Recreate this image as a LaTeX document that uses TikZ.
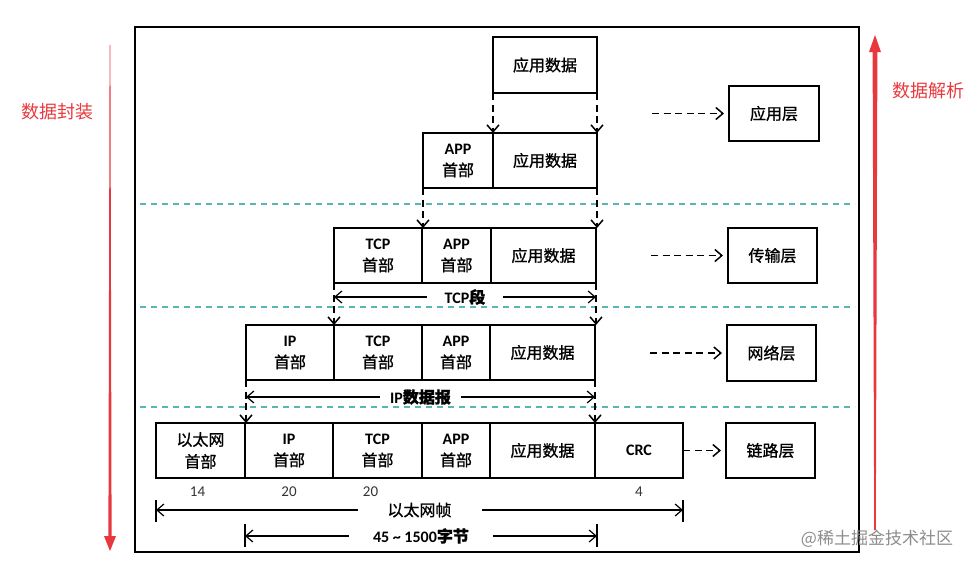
\documentclass[tikz,border=0pt]{standalone}
\usepackage{fontspec}
\setmainfont{Carlito}
\newfontfamily\cjk{Noto Sans CJK SC}
\newfontfamily\cjkb{Noto Sans CJK SC}[FakeBold=1.1]
\usetikzlibrary{arrows.meta}
\definecolor{redarr}{HTML}{E8383D}
\definecolor{cyanl}{HTML}{5AB5B5}
\newcommand\pbox[6]{\node[box, minimum width={(#4-#2)*1pt}, minimum height={(#5-#3)*1pt}] (#1) at ({(#2+#4)/2},{(#3+#5)/2}) {#6};}
\newcommand\hd[1]{\textbf{#1}\\{\cjkb 首部}}
\begin{document}
\begin{tikzpicture}[x=1pt,y=-1pt,
  box/.style={draw, line width=1.3pt, inner sep=0pt, outer sep=0pt, align=center,
    font=\fontsize{16}{22}\selectfont},
  layerbox/.style={box, font=\cjkb\fontsize{16}{18}\selectfont},
  darrow/.style={line width=1.5pt, dash pattern=on 7pt off 4.5pt, -{Straight Barb[length=7pt,width=12pt]}},
  dimarrow/.style={line width=1.2pt, {Straight Barb[length=7pt,width=12pt]}-{Straight Barb[length=7pt,width=12pt]}},
  dimlabel/.style={fill=white, inner ysep=1pt, font=\bfseries\fontsize{16}{18}\selectfont},
  sepline/.style={cyanl, line width=1.2pt, dash pattern=on 6pt off 5pt},
  redlabel/.style={text=redarr, font=\cjk\fontsize{18}{20}\selectfont},
  num/.style={font=\fontsize{15}{17}\selectfont, text=black!80}
]
\useasboundingbox (0,0) rectangle (974,566);
% frame
\draw[line width=1.5pt] (135,27) rectangle (859,552);
% separator lines
\draw[sepline] (140,204) -- (855,204);
\draw[sepline] (140,307) -- (855,307);
\draw[sepline] (140,407) -- (855,407);
% row 1
\pbox{ra}{493}{37}{597}{93}{{\cjkb 应用数据}}
% row 2
\pbox{rba}{423}{133}{493}{188}{\hd{APP}}
\pbox{rbb}{493}{133}{597}{188}{{\cjkb 应用数据}}
% row 3
\pbox{rca}{334}{228}{422}{283}{\hd{TCP}}
\pbox{rcb}{422}{228}{491}{283}{\hd{APP}}
\pbox{rcc}{491}{228}{596}{283}{{\cjkb 应用数据}}
% row 4
\pbox{rda}{246}{325}{334}{380}{\hd{IP}}
\pbox{rdb}{334}{325}{422}{380}{\hd{TCP}}
\pbox{rdc}{422}{325}{490}{380}{\hd{APP}}
\pbox{rdd}{490}{325}{595}{380}{{\cjkb 应用数据}}
% row 5
\pbox{rea}{156}{423}{245}{478}{{\cjkb 以太网}\\{\cjkb 首部}}
\pbox{reb}{245}{423}{333}{478}{\hd{IP}}
\pbox{rec}{333}{423}{422}{478}{\hd{TCP}}
\pbox{red}{422}{423}{490}{478}{\hd{APP}}
\pbox{ree}{490}{423}{595}{478}{{\cjkb 应用数据}}
\pbox{ref}{595}{423}{683}{478}{\textbf{CRC}}
% layer boxes
\node[layerbox, minimum width=90pt, minimum height=55pt] (la) at (774,113.5) {应用层};
\node[layerbox, minimum width=89pt, minimum height=55pt] (lb) at (772.5,255.5) {传输层};
\node[layerbox, minimum width=89pt, minimum height=56pt] (lc) at (771.5,353) {网络层};
\node[layerbox, minimum width=89pt, minimum height=55pt] (ld) at (770.5,450.5) {链路层};
% layer arrows
\coordinate (sa) at (652,113.5);
\coordinate (sb) at (651,255.5);
\coordinate (sc) at (650,353);
\draw[darrow] (sa) -- ([xshift=-5pt]la.west);
\draw[darrow] (sb) -- ([xshift=-5pt]lb.west);
\draw[darrow] (sc) -- ([xshift=-5pt]lc.west);
\draw[darrow] (ref.east) -- ([xshift=-5pt]ld.west);
% encapsulation arrows
\draw[darrow] (ra.south west) -- (rbb.north west);
\draw[darrow] (ra.south east) -- (rbb.north east);
\draw[darrow] (rba.south west) -- (rba.south west |- rcb.north);
\draw[darrow] (rbb.south east) -- (rbb.south east |- rcc.north);
\draw[darrow] (rca.south west) -- (rca.south west |- rdb.north);
\draw[darrow] (rcc.south east) -- (rcc.south east |- rdd.north);
\draw[darrow] (rda.south west) -- (rda.south west |- reb.north);
\draw[darrow] (rdd.south east) -- (rdd.south east |- ree.north);
% dimension lines
\draw[dimarrow] ([yshift=-14pt]rca.south west) -- node[dimlabel, inner xsep=18pt] {TCP{\cjkb 段}} ([yshift=-14pt]rcc.south east);
\draw[dimarrow] ([yshift=-17pt]rda.south west) -- node[dimlabel, inner xsep=10pt] {IP{\cjkb 数据报}} ([yshift=-17pt]rdd.south east);
% numbers
\node[num] (n1) at ([xshift=-3pt,yshift=-14pt]rea.south) {14};
\node[num] (n2) at ([yshift=-14pt]reb.south) {20};
\node[num] (n3) at ([xshift=-7pt,yshift=-14pt]rec.south) {20};
\node[num] (n4) at ([yshift=-14pt]ref.south) {4};
% frame dims
\coordinate (ea) at (156,510);
\coordinate (eb) at (683,510);
\coordinate (fa) at (245,536);
\coordinate (fb) at (597,536);
\draw[line width=1.2pt] (156,500) -- (156,522);
\draw[line width=1.2pt] (683,500) -- (683,522);
\draw[line width=1.2pt] (245,524) -- (245,547);
\draw[line width=1.2pt] (597,524) -- (597,547);
\draw[dimarrow] (ea) -- node[dimlabel, inner xsep=30pt, font=\cjkb\fontsize{16}{18}\selectfont] {以太网帧} (eb);
\draw[dimarrow] (fa) -- node[dimlabel, inner xsep=24pt] {45 \textasciitilde\ 1500{\cjkb 字节}} (fb);
% red arrows
\fill[redarr] (109.6,45) -- (110.4,45) -- (111.6,536) -- (116,536) -- (110,551) -- (104,536) -- (108.4,536) -- cycle;
\fill[redarr] (875,35) -- (881,52) -- (877.4,52) -- (875.8,530) -- (874.2,530) -- (872.6,52) -- (869,52) -- cycle;
\node[redlabel] (le) at (57,112) {数据封装};
\node[redlabel] (ri) at (928,91) {数据解析};
% watermark
\node[text=black!45, font=\cjk\fontsize{17}{19}\selectfont] (wm) at (877,539) {@稀土掘金技术社区};
\end{tikzpicture}
\end{document}
